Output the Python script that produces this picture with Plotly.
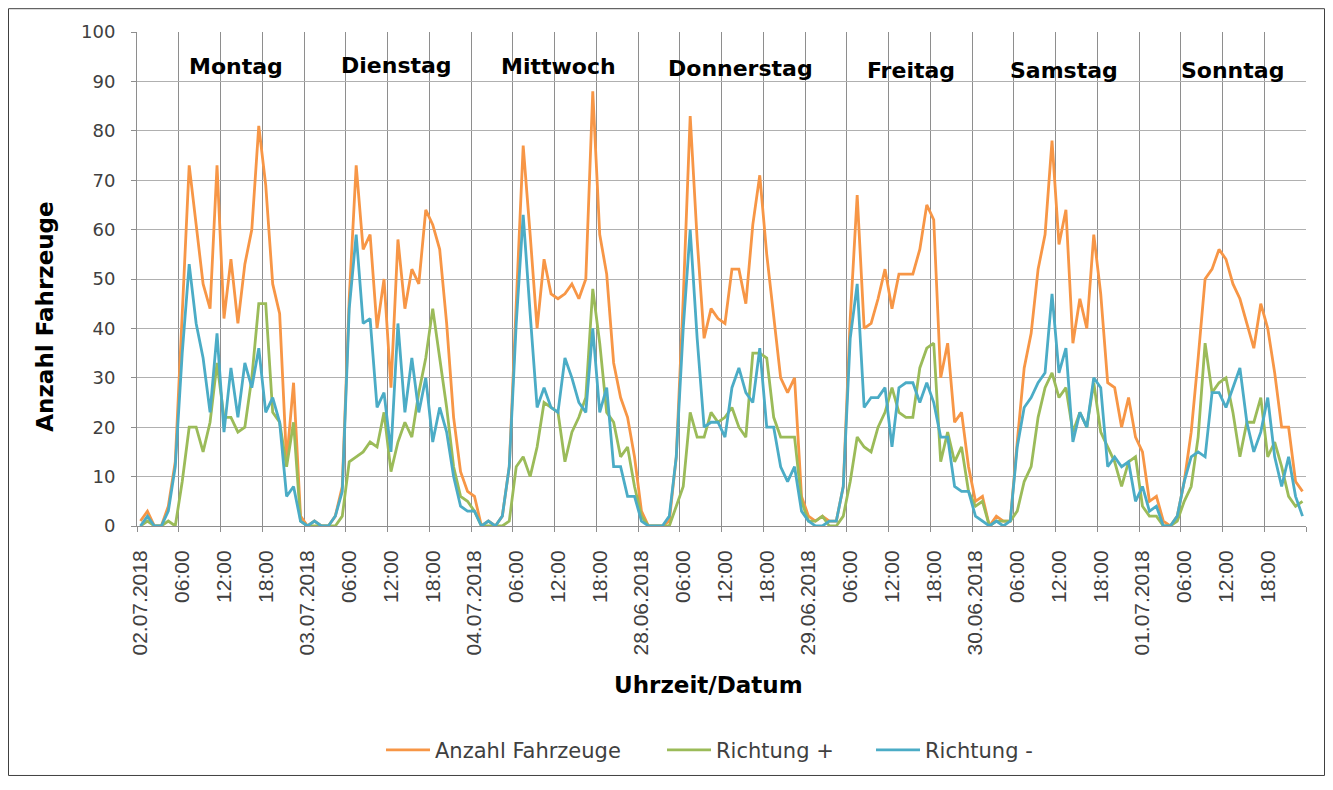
import plotly.graph_objects as go

# ---------------- data ----------------
day_names = ["Montag", "Dienstag", "Mittwoch", "Donnerstag", "Freitag", "Samstag", "Sonntag"]
day_dates = ["02.07.2018", "03.07.2018", "04.07.2018", "28.06.2018",
             "29.06.2018", "30.06.2018", "01.07.2018"]
time_labels = ["06:00", "12:00", "18:00"]

# hourly values, 24 per day, Monday ... Sunday
anzahl_fahrzeuge = [
    1, 3, 0, 0, 4, 13, 43, 73, 61, 49, 44, 73, 42, 54, 41, 53, 60, 81, 69, 49, 43, 13, 29, 2,
    0, 1, 0, 0, 2, 8, 46, 73, 56, 59, 40, 50, 28, 58, 44, 52, 49, 64, 61, 56, 41, 22, 11, 7,
    6, 0, 1, 0, 2, 12, 45, 77, 59, 40, 54, 47, 46, 47, 49, 46, 50, 88, 59, 51, 33, 26, 22, 14,
    3, 0, 0, 0, 1, 14, 46, 83, 58, 38, 44, 42, 41, 52, 52, 45, 61, 71, 55, 43, 30, 27, 30, 6,
    2, 1, 2, 1, 1, 8, 42, 67, 40, 41, 46, 52, 44, 51, 51, 51, 56, 65, 62, 30, 37, 21, 23, 12,
    5, 6, 0, 2, 1, 1, 17, 32, 39, 52, 59, 78, 57, 64, 37, 46, 40, 59, 47, 29, 28, 20, 26, 18,
    15, 5, 6, 1, 0, 2, 9, 19, 34, 50, 52, 56, 54, 49, 46, 41, 36, 45, 40, 31, 20, 20, 9, 7,
]
richtung_plus = [
    0, 1, 0, 0, 1, 0, 9, 20, 20, 15, 21, 33, 22, 22, 19, 20, 30, 45, 45, 23, 21, 12, 21, 1,
    0, 0, 0, 0, 0, 2, 13, 14, 15, 17, 16, 23, 11, 17, 21, 18, 27, 34, 44, 34, 24, 12, 6, 5,
    3, 0, 0, 0, 0, 1, 12, 14, 10, 16, 25, 24, 23, 13, 19, 22, 26, 48, 37, 23, 21, 14, 16, 8,
    2, 0, 0, 0, 0, 4, 8, 23, 18, 18, 23, 21, 22, 24, 20, 18, 35, 35, 34, 22, 18, 18, 18, 5,
    1, 1, 2, 0, 0, 2, 9, 18, 16, 15, 20, 23, 28, 23, 22, 22, 32, 36, 37, 13, 19, 13, 16, 7,
    4, 5, 0, 1, 1, 1, 3, 9, 12, 22, 28, 31, 26, 28, 19, 23, 20, 29, 19, 16, 13, 8, 13, 14,
    4, 2, 2, 0, 0, 1, 5, 8, 18, 37, 27, 29, 30, 23, 14, 21, 21, 26, 14, 17, 12, 6, 4, 5,
]
richtung_minus = [
    0, 2, 0, 0, 3, 12, 35, 53, 41, 34, 23, 39, 19, 32, 22, 33, 28, 36, 23, 26, 21, 6, 8, 1,
    0, 1, 0, 0, 2, 7, 44, 59, 41, 42, 24, 27, 15, 41, 23, 34, 23, 30, 17, 24, 19, 10, 4, 3,
    3, 0, 1, 0, 2, 12, 41, 63, 43, 24, 28, 24, 23, 34, 30, 25, 23, 40, 23, 28, 12, 12, 6, 6,
    1, 0, 0, 0, 2, 14, 40, 60, 38, 20, 21, 21, 18, 28, 32, 27, 25, 36, 20, 20, 12, 9, 12, 3,
    1, 0, 0, 1, 1, 8, 38, 49, 24, 26, 26, 28, 16, 28, 29, 29, 25, 29, 25, 18, 18, 8, 7, 7,
    2, 1, 0, 1, 0, 1, 16, 24, 26, 29, 31, 47, 31, 36, 17, 23, 20, 30, 28, 12, 14, 12, 13, 5,
    8, 3, 4, 0, 0, 2, 9, 14, 15, 14, 27, 27, 24, 28, 32, 21, 15, 19, 26, 14, 8, 14, 6, 2,
]

# day label placement (category units / value units)
day_label_x = [13.7, 36.8, 60.1, 86.3, 110.7, 132.7, 157.0]
day_label_y = [93.0, 93.2, 93.0, 92.6, 92.2, 92.2, 92.2]

series_names = ["Anzahl Fahrzeuge", "Richtung +", "Richtung -"]
series_colors = ["#F79646", "#9BBB59", "#4BACC6"]
legend_widths = [222, 150, 120]

# ---------------- layout constants (px, figure coords) ----------------
W, H = 1317, 774
L, R, T, B = 129, 19, 24, 252
PW, PH = W - L - R, H - T - B

def px_to_paper(x, y):
    return (x - L) / PW, 1 - (y - T) / PH

n = len(anzahl_fahrzeuge)
xs = list(range(n))

tickvals, ticktext = [], []
for d, date in enumerate(day_dates):
    tickvals.append(d * 24)
    ticktext.append(date)
    for k, t in enumerate(time_labels):
        tickvals.append(d * 24 + 6 * (k + 1))
        ticktext.append(t)

fig = go.Figure()
for name, vals, col, lw in zip(series_names,
                               [anzahl_fahrzeuge, richtung_plus, richtung_minus],
                               series_colors, legend_widths):
    fig.add_trace(go.Scatter(x=xs, y=vals, mode="lines", name=name, legendwidth=lw,
                             line=dict(color=col, width=2.8)))

TXT = "DejaVu Sans"
annotations = []
for name, dx, dy in zip(day_names, day_label_x, day_label_y):
    annotations.append(dict(x=dx, y=dy, xref="x", yref="y", text=f"<b>{name}</b>",
                            showarrow=False, font=dict(family=TXT, size=22, color="#000000"),
                            xanchor="center", yanchor="middle"))

ax, ay = px_to_paper(37, 311)
annotations.append(dict(x=ax, y=ay, xref="paper", yref="paper", text="<b>Anzahl Fahrzeuge</b>",
                        textangle=-90, showarrow=False,
                        font=dict(family=TXT, size=23, color="#000000"),
                        xanchor="center", yanchor="middle"))
bx, by = px_to_paper(700, 682)
annotations.append(dict(x=bx, y=by, xref="paper", yref="paper", text="<b>Uhrzeit/Datum</b>",
                        showarrow=False, font=dict(family=TXT, size=23, color="#000000"),
                        xanchor="center", yanchor="middle"))

x0, y0 = px_to_paper(0.5, 0.5)
x1, y1 = px_to_paper(W - 0.5, H - 0.5)
shapes = [dict(type="rect", xref="paper", yref="paper", x0=x0, y0=y0, x1=x1, y1=y1,
               line=dict(color="#404040", width=1), layer="below")]

lx, ly = px_to_paper(373, 748)

fig.update_layout(
    width=W, height=H,
    margin=dict(l=L, r=R, t=T, b=B),
    paper_bgcolor="white", plot_bgcolor="white",
    showlegend=True,
    legend=dict(orientation="h", x=lx, y=ly, xanchor="left", yanchor="middle",
                font=dict(family=TXT, size=21, color="#404040"),
                bgcolor="rgba(0,0,0,0)", itemwidth=44),
    annotations=annotations,
    shapes=shapes,
    xaxis=dict(range=[-0.5, n - 0.5], tickmode="array", tickvals=tickvals, ticktext=ticktext,
               tickangle=-90, showgrid=False, zeroline=False, ticks="",
               tickfont=dict(family="Liberation Sans", size=21, color="#404040"),
               ticklabelstandoff=15,
               showline=True, linecolor="#8E8E8E", linewidth=1,
               minor=dict(tickmode="linear", tick0=-0.5, dtick=6, showgrid=True,
                          gridcolor="#8E8E8E", gridwidth=1, ticks="outside", ticklen=5,
                          tickcolor="#8E8E8E")),
    yaxis=dict(range=[0, 100], dtick=10, showgrid=True, gridcolor="#B0B0B0", gridwidth=1,
               zeroline=False, showline=True, linecolor="#8E8E8E", linewidth=1,
               ticks="outside", ticklen=5, tickcolor="#8E8E8E",
               tickfont=dict(family=TXT, size=18, color="#404040"),
               ticklabelstandoff=12),
)

fig.write_html("out.html")
